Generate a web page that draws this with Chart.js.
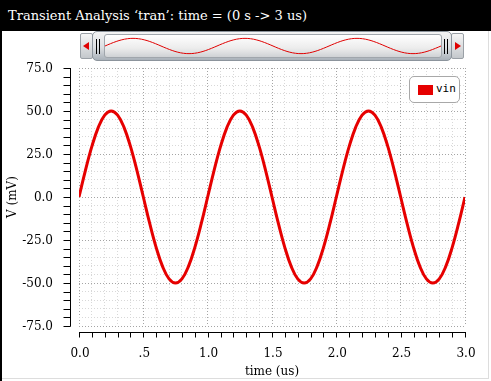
<!DOCTYPE html>
<html>
<head>
<meta charset="utf-8">
<script src="https://cdn.jsdelivr.net/npm/chart.js@4.4.1/dist/chart.umd.min.js"></script>
<style>
  html, body { margin: 0; padding: 0; background: #fff; }
  body { width: 491px; height: 381px; position: relative; overflow: hidden; font-family: "DejaVu Serif", serif; }
  .abs { position: absolute; }
  #titlebar { left: 0; top: 0; width: 491px; height: 31px; background: #000; color: #fff; font-size: 13px; line-height: 31px; padding-left: 8px; box-sizing: border-box; white-space: nowrap; }
  #leftedge { left: 0; top: 0; width: 2px; height: 381px; background: #000; }
  #rightedge { left: 488px; top: 31px; width: 1px; height: 348px; background: #ddd; }
  #bottomedge { left: 2px; top: 378px; width: 487px; height: 1px; background: #ddd; }
  .btn { top: 33px; width: 11px; height: 24px; border: 1px solid #9aa0a6; border-radius: 2px; background: linear-gradient(#f6f6f6, #c4c8cc); }
  .tri { position: absolute; top: 8px; width: 0; height: 0; border-top: 4px solid transparent; border-bottom: 4px solid transparent; }
  #thumb { left: 92px; top: 31px; width: 358px; height: 28px; border: 1px solid #8c949c; border-radius: 5px; background: linear-gradient(#f4f4f4, #dcdfe2 55%, #a9b1b9); }
  #track { left: 104px; top: 34px; width: 336px; height: 22px; border: 1px solid #a0a6ac; border-radius: 3px; background: linear-gradient(#ffffff, #ececec 60%, #cfd2d5); }
  .grip { width: 1px; height: 15px; top: 39px; background: #000; }
  #legend { left: 409px; top: 76px; width: 49px; height: 25px; border: 1px solid #a8a8a8; border-radius: 5px; background: #fff; }
  #legsw { left: 8px; top: 8px; width: 15px; height: 10px; background: #e60000; }
  #legtx { left: 26px; top: 5px; font-family: "DejaVu Sans Mono", monospace; font-size: 11px; color: #000; }
</style>
</head>
<body>
<canvas id="main" class="abs" width="491" height="381" style="left:0;top:0"></canvas>
<div id="titlebar" class="abs">Transient Analysis ‘tran’: time = (0 s -&gt; 3 us)</div>
<div id="leftedge" class="abs"></div>
<div id="rightedge" class="abs"></div>
<div id="bottomedge" class="abs"></div>

<!-- scroll / overview widget -->
<div class="abs btn" style="left:80px"><div class="tri" style="left:2px;border-right:6px solid #e00000"></div></div>
<div class="abs btn" style="left:451px"><div class="tri" style="left:3px;border-left:6px solid #e00000"></div></div>
<div id="thumb" class="abs"></div>
<div id="track" class="abs"></div>
<div class="abs grip" style="left:96px"></div>
<div class="abs grip" style="left:99px"></div>
<div class="abs grip" style="left:444px"></div>
<div class="abs grip" style="left:447px"></div>
<canvas id="mini" class="abs" width="336" height="22" style="left:105px;top:35px"></canvas>

<div id="legend" class="abs"><div id="legsw" class="abs"></div><div id="legtx" class="abs">vin</div></div>

<script>
/* ---------- data ---------- */
const seriesName = "vin";
const times = [
  0.00, 0.05, 0.10, 0.15, 0.20, 0.25, 0.30, 0.35, 0.40, 0.45,
  0.50, 0.55, 0.60, 0.65, 0.70, 0.75, 0.80, 0.85, 0.90, 0.95,
  1.00, 1.05, 1.10, 1.15, 1.20, 1.25, 1.30, 1.35, 1.40, 1.45,
  1.50, 1.55, 1.60, 1.65, 1.70, 1.75, 1.80, 1.85, 1.90, 1.95,
  2.00, 2.05, 2.10, 2.15, 2.20, 2.25, 2.30, 2.35, 2.40, 2.45,
  2.50, 2.55, 2.60, 2.65, 2.70, 2.75, 2.80, 2.85, 2.90, 2.95,
  3.00
];
const vin = [
  0, 15.5, 29.4, 40.5, 47.6, 50, 47.6, 40.5, 29.4, 15.5,
  0, -15.5, -29.4, -40.5, -47.6, -50, -47.6, -40.5, -29.4, -15.5,
  0, 15.5, 29.4, 40.5, 47.6, 50, 47.6, 40.5, 29.4, 15.5,
  0, -15.5, -29.4, -40.5, -47.6, -50, -47.6, -40.5, -29.4, -15.5,
  0, 15.5, 29.4, 40.5, 47.6, 50, 47.6, 40.5, 29.4, 15.5,
  0, -15.5, -29.4, -40.5, -47.6, -50, -47.6, -40.5, -29.4, -15.5,
  0
];
const xTickValues = [0, 0.5, 1.0, 1.5, 2.0, 2.5, 3.0];
const xTickLabels = ["0.0", ".5", "1.0", "1.5", "2.0", "2.5", "3.0"];
const yTickValues = [75, 50, 25, 0, -25, -50, -75];
const yTickLabels = ["75.0", "50.0", "25.0", "0.0", "-25.0", "-50.0", "-75.0"];
const xTitle = "time (us)";
const yTitle = "V (mV)";

const RED = "#e60000";
const points = times.map((t, i) => ({ x: t, y: vin[i] }));

const isMajor = (v, step) => Math.abs(v / step - Math.round(v / step)) < 1e-6;

/* ---------- axes drawn off the plot, like the original ---------- */
const axesPlugin = {
  id: "offsetAxes",
  afterDraw(chart) {
    const { ctx, chartArea: a, scales: { x, y } } = chart;
    ctx.save();
    ctx.strokeStyle = "#000";
    ctx.lineWidth = 1;

    // y axis
    const ax = a.left - 8.5;
    ctx.beginPath();
    ctx.moveTo(ax, Math.round(y.getPixelForValue(75)));
    ctx.lineTo(ax, Math.round(y.getPixelForValue(-75)) + 0.5);
    y.ticks.forEach(t => {
      const py = Math.round(y.getPixelForValue(t.value)) + 0.5;
      ctx.moveTo(ax - 7, py);
      ctx.lineTo(ax, py);
    });
    ctx.stroke();

    // x axis
    const ay = a.bottom + 6.5;
    ctx.beginPath();
    ctx.moveTo(Math.round(x.getPixelForValue(0)), ay);
    ctx.lineTo(Math.round(x.getPixelForValue(3)) + 1, ay);
    x.ticks.forEach(t => {
      const px = Math.round(x.getPixelForValue(t.value)) + 0.5;
      ctx.moveTo(px, ay);
      ctx.lineTo(px, ay + 5);
    });
    ctx.stroke();

    // labels
    ctx.fillStyle = "#000";
    ctx.font = '12px "DejaVu Serif"';
    ctx.textAlign = "right";
    ctx.textBaseline = "middle";
    yTickValues.forEach((v, i) => {
      ctx.fillText(yTickLabels[i], a.left - 26, y.getPixelForValue(v) + 1);
    });
    ctx.textAlign = "center";
    xTickValues.forEach((v, i) => {
      ctx.fillText(xTickLabels[i], x.getPixelForValue(v) + 1, a.bottom + 28);
    });

    ctx.fillText(xTitle, (a.left + a.right) / 2, a.bottom + 46);
    ctx.translate(13, (a.top + a.bottom) / 2);
    ctx.rotate(-Math.PI / 2);
    ctx.fillText(yTitle, 0, 0);
    ctx.restore();
  }
};

new Chart(document.getElementById("main"), {
  type: "line",
  data: {
    datasets: [{
      label: seriesName,
      data: points,
      borderColor: RED,
      borderWidth: 3,
      pointRadius: 0,
      tension: 0.4,
      fill: false
    }]
  },
  options: {
    responsive: false,
    animation: false,
    events: [],
    layout: { padding: { left: 79, top: 68, right: 26, bottom: 55 } },
    plugins: { legend: { display: false }, tooltip: { enabled: false } },
    scales: {
      x: {
        type: "linear", min: 0, max: 3,
        ticks: { display: false, stepSize: 0.1 },
        grid: {
          drawTicks: false,
          color: c => isMajor(c.tick.value, 0.5) ? "#a4a4a4" : "#d8d8d8"
        },
        border: { display: false, dash: [1, 2] }
      },
      y: {
        type: "linear", min: -75, max: 75,
        ticks: { display: false, stepSize: 5 },
        grid: {
          drawTicks: false,
          color: c => isMajor(c.tick.value, 25) ? "#a4a4a4" : "#d8d8d8"
        },
        border: { display: false, dash: [1, 2] }
      }
    }
  },
  plugins: [axesPlugin]
});

/* ---------- overview strip in the scroller ---------- */
new Chart(document.getElementById("mini"), {
  type: "line",
  data: {
    datasets: [{ data: points, borderColor: "#e00000", borderWidth: 1, pointRadius: 0, tension: 0.4 }]
  },
  options: {
    responsive: false,
    animation: false,
    events: [],
    layout: { padding: 0 },
    plugins: { legend: { display: false }, tooltip: { enabled: false } },
    scales: {
      x: { type: "linear", min: 0, max: 3, display: false },
      y: { min: -72, max: 72, display: false }
    }
  }
});
</script>
</body>
</html>
